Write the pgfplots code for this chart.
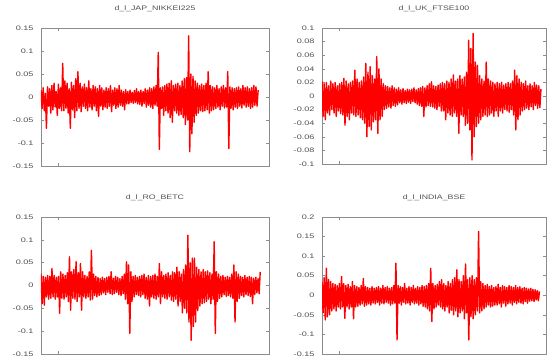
\documentclass[border=0pt]{standalone}
\usepackage{pgfplots}
\pgfplotsset{compat=1.18}
\usepackage{fontspec}
\setmainfont{Liberation Sans}
\definecolor{axgray}{HTML}{8C8C8C}
\definecolor{txgray}{HTML}{505050}
\pgfplotsset{
  panel/.style={
    scale only axis, anchor=south west,
    xmin=0,
    axis line style={axgray, line width=0.6pt},
    tick style={axgray, line width=0.5pt},
    major tick length=3pt,
    tick align=inside,
    xtick={8}, xticklabels={},
    ytick pos=both, xtick pos=both,
    yticklabel={\scalebox{1.4}[1]{\pgfmathprintnumber[assume math mode=true]{\tick}}},
    yticklabel style={font=\fontsize{6.5}{7}\selectfont, text=txgray, xshift=-4pt},
    title style={font=\fontsize{6.5}{7}\selectfont, text=txgray, at={(0.5,1)}, anchor=center, yshift=13pt},
    scaled y ticks=false,
    /pgf/number format/fixed,
  },
  sig/.style={red, line width=1.4pt, line join=round, mark=none},
}
\begin{document}
\begin{tikzpicture}
\useasboundingbox (0,0) rectangle (547pt,358pt);
\clip (0,0) rectangle (547pt,358pt);
% top left
\begin{axis}[panel, at={(41pt,192pt)}, width=228pt, height=138pt,
  xmax=105, ymin=-0.15, ymax=0.15, ytick={-0.15,-0.1,-0.05,0,0.05,0.1,0.15},
  title={\scalebox{1.35}[1]{d\_l\_JAP\_NIKKEI225}}]
\addplot[sig] table[row sep=\\, header=false, x expr=\coordindex/2, y expr=\thisrowno{0}/1000] {
15\\ -25\\ 20\\ -30\\ 8\\ -68\\ 22\\ -20\\ 18\\ -35\\
25\\ -28\\ 30\\ -22\\ 12\\ -40\\ 28\\ -25\\ 20\\ -30\\
73\\ -30\\ 35\\ -25\\ 30\\ -35\\ 18\\ -68\\ 32\\ -28\\
25\\ -45\\ 40\\ -30\\ 55\\ -25\\ 30\\ -32\\ 22\\ -20\\
28\\ -25\\ 20\\ -30\\ 35\\ -22\\ 18\\ -28\\ 25\\ -20\\
22\\ -30\\ 18\\ -42\\ 25\\ -20\\ 20\\ -28\\ 15\\ -22\\
20\\ -25\\ 18\\ -20\\ 25\\ -32\\ 15\\ -18\\ 20\\ -25\\
18\\ -22\\ 25\\ -18\\ 15\\ -20\\ 12\\ -28\\ 16\\ -15\\
12\\ -15\\ 15\\ -12\\ 10\\ -14\\ 14\\ -12\\ 18\\ -15\\
12\\ -16\\ 15\\ -20\\ 12\\ -14\\ 18\\ -22\\ 15\\ -18\\
20\\ -22\\ 18\\ -25\\ 22\\ -18\\ 25\\ -20\\ 97\\ -114\\
20\\ -25\\ 22\\ -40\\ 25\\ -30\\ 28\\ -35\\ 30\\ -45\\
35\\ -55\\ 25\\ -30\\ 28\\ -35\\ 30\\ -40\\ 25\\ -38\\
35\\ -45\\ 40\\ -60\\ 42\\ -50\\ 133\\ -119\\ 50\\ -80\\
45\\ -55\\ 35\\ -40\\ 30\\ -35\\ 25\\ -30\\ 28\\ -32\\
25\\ -30\\ 30\\ -28\\ 55\\ -35\\ 25\\ -30\\ 22\\ -28\\
20\\ -25\\ 25\\ -22\\ 18\\ -28\\ 22\\ -20\\ 25\\ -24\\
20\\ -22\\ 55\\ -112\\ 22\\ -25\\ 20\\ -28\\ 18\\ -22\\
20\\ -25\\ 22\\ -20\\ 18\\ -24\\ 25\\ -18\\ 20\\ -22\\
22\\ -20\\ 18\\ -25\\ 20\\ -22\\ 25\\ -18\\ 22\\ -20\\ 15\\
};
\end{axis}
% top right
\begin{axis}[panel, at={(322pt,194pt)}, width=224pt, height=136pt,
  xmax=102.3, ymin=-0.1, ymax=0.1, ytick={-0.1,-0.08,...,0.1},
  yticklabel={\scalebox{1.4}[1]{\pgfmathprintnumber[assume math mode=true,fixed,precision=2]{\tick}}},
  title={\scalebox{1.35}[1]{d\_l\_UK\_FTSE100}}]
\addplot[sig] table[row sep=\\, header=false, x expr=\coordindex/2, y expr=\thisrowno{0}/1000] {
22\\ -30\\ 18\\ -35\\ 20\\ -25\\ 15\\ -28\\ 22\\ -20\\
18\\ -25\\ 20\\ -30\\ 15\\ -22\\ 18\\ -26\\ 20\\ -28\\
26\\ -43\\ 22\\ -30\\ 18\\ -35\\ 20\\ -25\\ 22\\ -28\\
38\\ -30\\ 25\\ -28\\ 20\\ -32\\ 22\\ -35\\ 28\\ -40\\
48\\ -60\\ 35\\ -45\\ 43\\ -50\\ 30\\ -38\\ 25\\ -35\\
58\\ -55\\ 40\\ -35\\ 25\\ -30\\ 18\\ -20\\ 15\\ -18\\
14\\ -16\\ 12\\ -18\\ 15\\ -14\\ 12\\ -15\\ 10\\ -13\\
12\\ -10\\ 9\\ -12\\ 11\\ -10\\ 8\\ -11\\ 10\\ -9\\
9\\ -11\\ 10\\ -8\\ 12\\ -10\\ 9\\ -12\\ 11\\ -14\\
12\\ -15\\ 14\\ -30\\ 12\\ -16\\ 15\\ -14\\ 18\\ -15\\
21\\ -16\\ 15\\ -18\\ 14\\ -20\\ 16\\ -15\\ 18\\ -22\\
20\\ -22\\ 18\\ -35\\ 22\\ -25\\ 20\\ -28\\ 25\\ -30\\
31\\ -25\\ 22\\ -30\\ 25\\ -55\\ 30\\ -28\\ 25\\ -30\\
28\\ -43\\ 35\\ -40\\ 82\\ -50\\ 70\\ -94\\ 92\\ -60\\
50\\ -45\\ 45\\ -40\\ 30\\ -35\\ 25\\ -30\\ 22\\ -28\\
50\\ -30\\ 25\\ -28\\ 22\\ -25\\ 20\\ -30\\ 18\\ -22\\
20\\ -30\\ 18\\ -22\\ 20\\ -25\\ 16\\ -20\\ 18\\ -22\\
20\\ -24\\ 18\\ -20\\ 22\\ -28\\ 38\\ -50\\ 30\\ -35\\
25\\ -28\\ 20\\ -22\\ 18\\ -20\\ 22\\ -18\\ 15\\ -20\\
18\\ -16\\ 15\\ -20\\ 20\\ -14\\ 16\\ -18\\ 15\\ -17\\ 10\\
};
\end{axis}
% bottom left
\begin{axis}[panel, at={(41pt,4pt)}, width=228pt, height=137pt,
  xmax=104, ymin=-0.15, ymax=0.15, ytick={-0.15,-0.1,-0.05,0,0.05,0.1,0.15},
  title={\scalebox{1.35}[1]{d\_l\_RO\_BETC}}]
\addplot[sig] table[row sep=\\, header=false, x expr=\coordindex/2, y expr=\thisrowno{0}/1000] {
25\\ -40\\ 20\\ -43\\ 18\\ -25\\ 22\\ -30\\ 20\\ -28\\
37\\ -25\\ 22\\ -30\\ 18\\ -25\\ 20\\ -61\\ 30\\ -28\\
25\\ -30\\ 22\\ -25\\ 28\\ -35\\ 63\\ -54\\ 30\\ -28\\
35\\ -30\\ 52\\ -35\\ 28\\ -25\\ 48\\ -54\\ 30\\ -25\\
22\\ -28\\ 20\\ -25\\ 30\\ -32\\ 77\\ -30\\ 25\\ -22\\
20\\ -25\\ 18\\ -22\\ 15\\ -20\\ 18\\ -16\\ 15\\ -20\\
18\\ -15\\ 20\\ -18\\ 30\\ -20\\ 16\\ -18\\ 20\\ -15\\
18\\ -20\\ 15\\ -22\\ 20\\ -18\\ 25\\ -30\\ 52\\ -40\\
45\\ -105\\ 30\\ -35\\ 20\\ -25\\ 22\\ -20\\ 18\\ -22\\
20\\ -25\\ 22\\ -20\\ 25\\ -28\\ 18\\ -30\\ 22\\ -45\\
20\\ -25\\ 22\\ -28\\ 25\\ -30\\ 20\\ -25\\ 48\\ -40\\
30\\ -25\\ 22\\ -28\\ 25\\ -30\\ 28\\ -25\\ 22\\ -32\\
30\\ -35\\ 28\\ -30\\ 40\\ -45\\ 30\\ -35\\ 25\\ -60\\
35\\ -50\\ 45\\ -60\\ 110\\ -80\\ 50\\ -120\\ 60\\ -90\\
60\\ -80\\ 40\\ -55\\ 35\\ -45\\ 30\\ -40\\ 35\\ -38\\
30\\ -35\\ 32\\ -30\\ 28\\ -40\\ 25\\ -30\\ 96\\ -105\\
30\\ -35\\ 25\\ -28\\ 20\\ -25\\ 22\\ -20\\ 18\\ -24\\
20\\ -22\\ 18\\ -25\\ 25\\ -28\\ 45\\ -80\\ 30\\ -35\\
25\\ -28\\ 20\\ -22\\ 18\\ -25\\ 22\\ -20\\ 18\\ -22\\
20\\ -24\\ 18\\ -40\\ 16\\ -20\\ 18\\ -16\\ 15\\ -18\\ 30\\
};
\end{axis}
% bottom right
\begin{axis}[panel, at={(322pt,4pt)}, width=224pt, height=137pt,
  xmax=103, ymin=-0.15, ymax=0.2, ytick={-0.15,-0.1,-0.05,0,0.05,0.1,0.15,0.2},
  title={\scalebox{1.35}[1]{d\_l\_INDIA\_BSE}}]
\addplot[sig] table[row sep=\\, header=false, x expr=\coordindex/2, y expr=\thisrowno{0}/1000] {
35\\ -45\\ 45\\ -63\\ 69\\ -55\\ 40\\ -50\\ 35\\ -40\\
30\\ -35\\ 28\\ -40\\ 25\\ -30\\ 30\\ -35\\ 48\\ -30\\
30\\ -59\\ 25\\ -30\\ 28\\ -35\\ 22\\ -30\\ 35\\ -60\\
25\\ -30\\ 22\\ -28\\ 20\\ -25\\ 25\\ -22\\ 43\\ -28\\
22\\ -25\\ 20\\ -22\\ 18\\ -25\\ 22\\ -20\\ 18\\ -22\\
20\\ -18\\ 22\\ -25\\ 18\\ -20\\ 25\\ -22\\ 20\\ -18\\
22\\ -20\\ 18\\ -25\\ 20\\ -22\\ 25\\ -20\\ 82\\ -114\\
25\\ -20\\ 22\\ -25\\ 20\\ -18\\ 30\\ -22\\ 18\\ -20\\
22\\ -25\\ 20\\ -18\\ 25\\ -22\\ 18\\ -20\\ 22\\ -25\\
20\\ -22\\ 25\\ -28\\ 22\\ -30\\ 25\\ -35\\ 30\\ -40\\
69\\ -67\\ 30\\ -35\\ 25\\ -30\\ 28\\ -25\\ 35\\ -30\\
40\\ -35\\ 30\\ -40\\ 25\\ -30\\ 35\\ -45\\ 30\\ -38\\
40\\ -50\\ 45\\ -40\\ 65\\ -55\\ 40\\ -45\\ 35\\ -40\\
50\\ -60\\ 80\\ -45\\ 40\\ -114\\ 45\\ -55\\ 50\\ -60\\
40\\ -50\\ 45\\ -40\\ 163\\ -45\\ 35\\ -40\\ 30\\ -35\\
25\\ -30\\ 28\\ -25\\ 22\\ -30\\ 25\\ -28\\ 20\\ -25\\
22\\ -25\\ 28\\ -22\\ 20\\ -30\\ 25\\ -20\\ 22\\ -28\\
20\\ -22\\ 25\\ -20\\ 22\\ -25\\ 20\\ -18\\ 25\\ -22\\
20\\ -18\\ 22\\ -20\\ 18\\ -22\\ 20\\ -16\\ 18\\ -20\\
16\\ -15\\ 18\\ -14\\ 15\\ -16\\ 14\\ -12\\ 12\\ -14\\ 10\\
};
\end{axis}
\end{tikzpicture}
\end{document}
